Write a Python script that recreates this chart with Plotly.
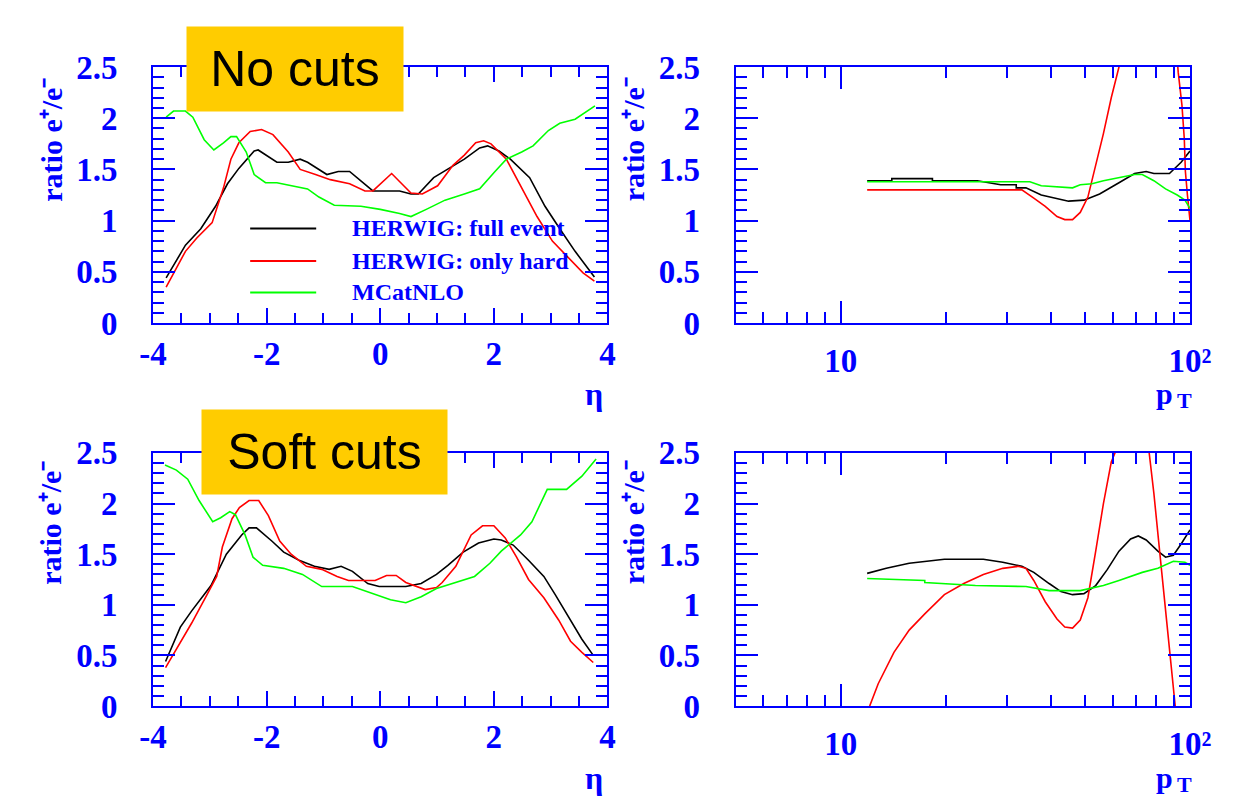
import math
import plotly.graph_objects as go

# ---------------- data ----------------
# Top-left: no cuts, ratio vs eta
eta_nc_full = [-3.77, -3.43, -3.16, -2.90, -2.69, -2.49, -2.22, -2.15, -1.82, -1.62, -1.41, -1.28, -0.94, -0.74,
               -0.54, -0.34, -0.13, 0.34, 0.54, 0.67, 0.94, 1.21, 1.48, 1.75, 1.89, 2.09, 2.29, 2.63, 2.90, 3.16,
               3.43, 3.77]
ratio_nc_full = [0.44, 0.76, 0.92, 1.14, 1.36, 1.51, 1.68, 1.69, 1.57, 1.57, 1.60, 1.57, 1.45, 1.48,
                 1.48, 1.39, 1.29, 1.29, 1.26, 1.26, 1.42, 1.51, 1.60, 1.71, 1.73, 1.68, 1.60, 1.42, 1.14, 0.92,
                 0.70, 0.45]
eta_nc_hard = [-3.77, -3.43, -3.23, -2.96, -2.76, -2.63, -2.49, -2.29, -2.09, -1.89, -1.62, -1.41, -1.14, -0.88,
               -0.54, -0.27, -0.13, 0.20, 0.54, 0.74, 1.01, 1.28, 1.48, 1.68, 1.82, 1.95, 2.22, 2.49, 2.76, 3.03,
               3.30, 3.57, 3.77]
ratio_nc_hard = [0.35, 0.70, 0.83, 0.98, 1.32, 1.60, 1.76, 1.87, 1.89, 1.84, 1.67, 1.50, 1.45, 1.40,
                 1.36, 1.29, 1.29, 1.46, 1.27, 1.26, 1.34, 1.54, 1.64, 1.76, 1.78, 1.75, 1.60, 1.32, 1.04, 0.80,
                 0.64, 0.49, 0.41]
eta_nc_mc = [-3.77, -3.64, -3.43, -3.30, -3.10, -2.93, -2.76, -2.63, -2.53, -2.36, -2.22, -2.02, -1.82, -1.55,
             -1.28, -1.08, -0.81, -0.34, 0.00, 0.34, 0.54, 0.81, 1.14, 1.48, 1.75, 2.02, 2.22, 2.49, 2.69, 2.96,
             3.16, 3.43, 3.64, 3.78]
ratio_nc_mc = [2.01, 2.07, 2.07, 2.01, 1.79, 1.69, 1.76, 1.82, 1.82, 1.67, 1.45, 1.37, 1.37, 1.34,
               1.31, 1.23, 1.15, 1.14, 1.11, 1.07, 1.04, 1.11, 1.20, 1.26, 1.31, 1.48, 1.60, 1.67, 1.73, 1.88,
               1.95, 1.99, 2.07, 2.12]

# Top-right: no cuts, ratio vs pT
pt_nc_full = [11.9, 14.0, 14.0, 18.3, 18.3, 24.6, 28.7, 31.8, 31.8, 33.9, 37.5, 44.9, 49.7, 55.1, 62.6, 69.4,
              74.9, 78.8, 87.3, 94.3, 100.0]
ratio_pt_nc_full = [1.39, 1.39, 1.41, 1.41, 1.39, 1.39, 1.35, 1.35, 1.32, 1.32, 1.25, 1.19, 1.20, 1.26, 1.37, 1.46,
                    1.48, 1.46, 1.46, 1.57, 1.68]
pt_nc_hard = [11.9, 33.0, 35.7, 38.5, 41.6, 43.8, 46.1, 48.5, 51.0, 53.7, 56.5, 59.5, 62.6, 65.9, 90.5, 92.5,
              94.8, 96.3, 97.0, 98.3, 100.0]
ratio_pt_nc_hard = [1.30, 1.30, 1.22, 1.14, 1.04, 1.01, 1.01, 1.08, 1.23, 1.54, 1.85, 2.20, 2.50, 2.90, 2.90, 2.45,
                    2.13, 1.80, 1.48, 1.25, 1.00]
pt_nc_mc = [11.9, 34.8, 37.5, 43.8, 46.1, 48.5, 52.4, 56.5, 62.6, 69.4, 73.0, 78.8, 85.1, 91.9, 96.7, 100.0]
ratio_pt_nc_mc = [1.38, 1.38, 1.34, 1.32, 1.32, 1.35, 1.36, 1.39, 1.42, 1.45, 1.45, 1.39, 1.31, 1.25, 1.20, 1.12]

# Bottom-left: soft cuts, ratio vs eta
eta_sc_full = [-3.78, -3.52, -3.32, -2.98, -2.71, -2.44, -2.31, -2.18, -1.91, -1.70, -1.43, -1.16, -0.90, -0.69,
               -0.49, -0.22, -0.02, 0.45, 0.72, 0.99, 1.19, 1.46, 1.73, 2.00, 2.13, 2.34, 2.61, 2.88, 3.08, 3.28,
               3.55, 3.75]
ratio_sc_full = [0.44, 0.78, 0.94, 1.19, 1.50, 1.69, 1.76, 1.76, 1.63, 1.52, 1.44, 1.38, 1.35, 1.38,
                 1.33, 1.21, 1.18, 1.18, 1.21, 1.30, 1.39, 1.52, 1.61, 1.65, 1.64, 1.59, 1.44, 1.28, 1.10, 0.91,
                 0.66, 0.50]
eta_sc_hard = [-3.78, -3.52, -3.32, -3.05, -2.88, -2.78, -2.61, -2.48, -2.31, -2.14, -1.97, -1.77, -1.57, -1.30,
               -1.03, -0.76, -0.56, -0.29, -0.09, 0.11, 0.28, 0.45, 0.65, 0.79, 0.99, 1.09, 1.33, 1.60, 1.80,
               2.00, 2.20, 2.40, 2.61, 2.88, 3.14, 3.35, 3.55, 3.75]
ratio_sc_hard = [0.38, 0.63, 0.82, 1.10, 1.28, 1.57, 1.85, 1.96, 2.03, 2.03, 1.88, 1.63, 1.50, 1.38,
                 1.35, 1.28, 1.24, 1.24, 1.24, 1.29, 1.29, 1.22, 1.18, 1.15, 1.17, 1.22, 1.38, 1.69, 1.78,
                 1.78, 1.66, 1.47, 1.25, 1.07, 0.85, 0.64, 0.53, 0.43]
eta_sc_mc = [-3.79, -3.59, -3.39, -3.19, -2.95, -2.81, -2.65, -2.55, -2.38, -2.24, -2.07, -1.91, -1.70, -1.37,
             -1.03, -0.49, -0.22, 0.18, 0.45, 0.72, 0.99, 1.33, 1.66, 1.93, 2.13, 2.47, 2.67, 2.94, 3.28, 3.55,
             3.80]
ratio_sc_mc = [2.38, 2.33, 2.24, 2.03, 1.82, 1.86, 1.92, 1.89, 1.69, 1.47, 1.39, 1.38, 1.36, 1.30,
               1.18, 1.18, 1.13, 1.05, 1.02, 1.08, 1.16, 1.22, 1.28, 1.41, 1.53, 1.69, 1.82, 2.14, 2.14, 2.27,
               2.44]

# Bottom-right: soft cuts, ratio vs pT
pt_sc_full = [11.9, 13.5, 15.7, 17.4, 19.8, 25.6, 29.1, 33.0, 35.7, 39.5, 42.7, 46.1, 49.7, 53.7, 58.0, 62.6,
              67.6, 71.1, 74.9, 80.9, 85.1, 89.6, 94.3, 100.0]
ratio_pt_sc_full = [1.31, 1.36, 1.41, 1.43, 1.45, 1.45, 1.42, 1.38, 1.32, 1.21, 1.13, 1.10, 1.11, 1.19, 1.35, 1.53,
                    1.65, 1.68, 1.64, 1.53, 1.47, 1.49, 1.60, 1.74]
pt_sc_hard = [12.1, 12.8, 14.2, 15.7, 17.4, 19.8, 22.5, 25.6, 29.1, 32.2, 33.9, 35.7, 38.5, 41.6, 43.8, 46.1,
              48.5, 51.0, 53.7, 56.5, 59.5, 61.0, 63.0, 74.5, 76.4, 78.8, 83.0, 86.2, 90.7]
ratio_pt_sc_hard = [0.00, 0.22, 0.53, 0.75, 0.91, 1.10, 1.21, 1.30, 1.36, 1.38, 1.36, 1.24, 1.03, 0.86, 0.78, 0.77,
                    0.85, 1.07, 1.53, 2.00, 2.41, 2.50, 2.90, 2.90, 2.50, 2.10, 1.32, 0.75, 0.00]
pt_sc_mc = [11.9, 17.4, 17.4, 24.3, 33.9, 39.5, 48.5, 56.5, 62.6, 73.0, 80.9, 89.6, 96.7, 100.0]
ratio_pt_sc_mc = [1.26, 1.24, 1.22, 1.19, 1.18, 1.14, 1.14, 1.19, 1.24, 1.32, 1.36, 1.43, 1.42, 1.39]

series_names = ["HERWIG: full event", "HERWIG: only hard", "MCatNLO"]
eta_tickvals = [-4, -2, 0, 2, 4]
eta_ticktext = ["-4", "-2", "0", "2", "4"]
pt_tickvals = [10, 100]
pt_ticktext = ["10", "10²"]
pt_minor_vals = [6, 7, 8, 9, 20, 30, 40, 50, 60, 70, 80, 90]
ratio_tickvals = [0, 0.5, 1, 1.5, 2, 2.5]
ratio_ticktext = ["0", "0.5", "1", "1.5", "2", "2.5"]
panel_labels = ["No cuts", "Soft cuts"]
y_title = "ratio e⁺/e⁻"
eta_title = "η"
pt_title_main, pt_title_sub = "p", "T"

# ---------------- style ----------------
W, H = 1238, 803
BLUE = "#0000FF"
COLORS = ["#000000", "#FF0000", "#00FF00"]
SERIF = "Liberation Serif"
TICKFONT = dict(family=SERIF, size=33, color=BLUE, weight="bold")


def fx(p):
    return p / W


def fy(p):
    return 1 - p / H


X_LEFT = [fx(135), fx(603)]
X_RIGHT = [fx(735), fx(1203)]
Y_TOP = [fy(312), fy(44)]
Y_BOT = [fy(713), fy(448)]

fig = go.Figure()

panels = [
    ("x", "y", [(eta_nc_full, ratio_nc_full), (eta_nc_hard, ratio_nc_hard), (eta_nc_mc, ratio_nc_mc)]),
    ("x2", "y2", [(pt_nc_full, ratio_pt_nc_full), (pt_nc_hard, ratio_pt_nc_hard), (pt_nc_mc, ratio_pt_nc_mc)]),
    ("x3", "y3", [(eta_sc_full, ratio_sc_full), (eta_sc_hard, ratio_sc_hard), (eta_sc_mc, ratio_sc_mc)]),
    ("x4", "y4", [(pt_sc_full, ratio_pt_sc_full), (pt_sc_hard, ratio_pt_sc_hard), (pt_sc_mc, ratio_pt_sc_mc)]),
]
for xa, ya, series in panels:
    for (xs, ys), name, col in zip(series, series_names, COLORS):
        fig.add_trace(go.Scatter(x=xs, y=ys, mode="lines", name=name, xaxis=xa, yaxis=ya,
                                 line=dict(color=col, width=1.6), showlegend=False))

common = dict(showline=True, linecolor=BLUE, linewidth=2, mirror="ticks", ticks="inside",
              tickcolor=BLUE, tickwidth=2, showgrid=False, zeroline=False, tickfont=TICKFONT)


def eta_axis(domain, anchor):
    return dict(common, domain=domain, anchor=anchor, range=[-4, 4], tickmode="array",
                tickvals=eta_tickvals, ticktext=eta_ticktext, ticklen=15,
                minor=dict(ticks="inside", dtick=0.5, tick0=0, ticklen=10, tickwidth=2, tickcolor=BLUE))


def pt_axis(domain, anchor):
    return dict(common, domain=domain, anchor=anchor, type="log", range=[math.log10(5), 2],
                tickmode="array", tickvals=pt_tickvals, ticktext=pt_ticktext, ticklen=22,
                ticklabelstandoff=7,
                minor=dict(ticks="inside", tickmode="array", tickvals=pt_minor_vals, ticklen=11,
                           tickwidth=2, tickcolor=BLUE))


def ratio_axis(domain, anchor):
    return dict(common, domain=domain, anchor=anchor, range=[0, 2.5], tickmode="array",
                tickvals=ratio_tickvals, ticktext=ratio_ticktext, ticklen=22, ticklabelstandoff=27,
                minor=dict(ticks="inside", dtick=0.1, tick0=0, ticklen=11, tickwidth=2, tickcolor=BLUE))


fig.update_layout(
    width=W, height=H, margin=dict(l=0, r=0, t=0, b=0),
    paper_bgcolor="white", plot_bgcolor="white", showlegend=False,
    xaxis=eta_axis(X_LEFT, "y"), yaxis=ratio_axis(Y_TOP, "x"),
    xaxis2=pt_axis(X_RIGHT, "y2"), yaxis2=ratio_axis(Y_TOP, "x2"),
    xaxis3=eta_axis(X_LEFT, "y3"), yaxis3=ratio_axis(Y_BOT, "x3"),
    xaxis4=pt_axis(X_RIGHT, "y4"), yaxis4=ratio_axis(Y_BOT, "x4"),
)

ann = []
TITLEFONT = dict(family=SERIF, size=30, color=BLUE, weight="bold")
for xc, ybottom in [(30, 187), (630, 187), (30, 588), (630, 588)]:
    ann.append(dict(text=y_title, xref="paper", yref="paper", x=fx(xc), y=fy(ybottom),
                    xanchor="center", yanchor="bottom", textangle=-90, showarrow=False, font=TITLEFONT))
for yc in [386, 788]:
    ann.append(dict(text=eta_title, xref="paper", yref="paper", x=fx(589), y=fy(yc), xanchor="center",
                    yanchor="middle", showarrow=False, font=dict(TITLEFONT, size=32)))
    ann.append(dict(text=pt_title_main, xref="paper", yref="paper", x=fx(1188), y=fy(yc), xanchor="right",
                    yanchor="middle", showarrow=False, font=TITLEFONT))
    ann.append(dict(text=pt_title_sub, xref="paper", yref="paper", x=fx(1188), y=fy(yc + 7), xanchor="left",
                    yanchor="middle", showarrow=False, font=dict(TITLEFONT, size=22)))

# panel labels
for label, xc, yc, w in [(panel_labels[0], 281, 46, 216), (panel_labels[1], 311.5, 447, 245)]:
    ann.append(dict(text=label, xref="paper", yref="paper", x=fx(xc), y=fy(yc), xanchor="center",
                    yanchor="middle", showarrow=False, bgcolor="#FFCC00", width=w, height=84, borderpad=0,
                    font=dict(family="Liberation Sans", size=50, color="black")))

# legend (top-left panel)
LEGFONT = dict(family=SERIF, size=24, color=BLUE, weight="bold")
shapes = []
for name, col, yc in zip(series_names, COLORS, [213, 247, 280]):
    shapes.append(dict(type="line", xref="paper", yref="paper", x0=fx(235), x1=fx(303), y0=fy(yc), y1=fy(yc),
                       line=dict(color=col, width=2)))
    ann.append(dict(text=name, xref="paper", yref="paper", x=fx(338), y=fy(yc), xanchor="left",
                    yanchor="middle", showarrow=False, font=LEGFONT))

fig.update_layout(annotations=ann, shapes=shapes)
fig.write_html("out.html")
